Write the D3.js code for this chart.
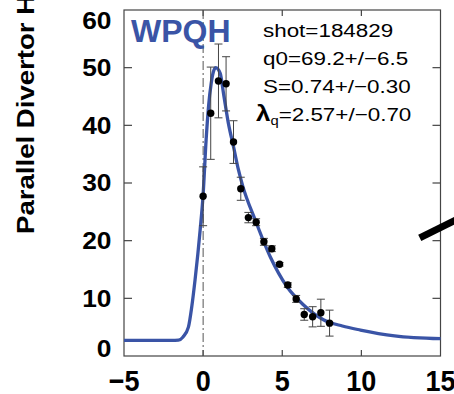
<!DOCTYPE html>
<html>
<head>
<meta charset="utf-8">
<script src="https://cdn.jsdelivr.net/npm/d3@7"></script>
<style>
  body { margin: 0; background: #fff; }
  text { font-family: "Liberation Sans", Arial, Helvetica, sans-serif; }
</style>
</head>
<body>
<div id="chart"></div>
<script>
// fitted profile (x in mm, q in MW/m2)
const fitX = [-5, -2, -1.56, -1.27, -0.93, -0.72, -0.51, -0.19, 0, 0.19, 0.34, 0.51, 0.65, 0.8, 1.08, 1.29, 1.6, 1.92, 2.23, 2.5, 3.29, 4.24, 5.3, 6.33, 7.6, 8.8, 9.94, 12.1, 15]
const fitY = [2.7, 2.7, 2.75, 3.3, 5.0, 8.5, 13.2, 21.8, 28, 37.5, 43.2, 47.3, 49.3, 50, 49, 45.5, 40.3, 36.3, 32.3, 29.5, 23.6, 17.2, 12, 8.9, 6.3, 5.2, 4.5, 3.5, 3.0]

// measured points with error bars
const ptX = [0, 0.48, 0.97, 1.45, 1.92, 2.38, 2.86, 3.35, 3.84, 4.34, 4.83, 5.35, 5.88, 6.39, 6.92, 7.44, 7.99]
const ptY = [27.7, 42.1, 47.7, 47.2, 37.1, 29.0, 24.0, 23.2, 19.8, 18.6, 15.9, 12.3, 9.9, 7.2, 6.8, 7.5, 5.7]
const ptErr = [5.1, 8.0, 6.4, 4.7, 3.7, 2.0, 0.9, 0.6, 0.6, 0.5, 0.3, 0.4, 0.6, 1.0, 1.75, 2.35, 2.25]

const xTicks = [-5, 0, 5, 10, 15]
const yTicks = [0, 10, 20, 30, 40, 50, 60]

const infoLines = ["shot=184829", "q0=69.2+/\u22126.5", "S=0.74+/\u22120.30"]
const lambdaText = "=2.57+/\u22120.70"
const pointer = [[13.69, 20.5], [17.0, 25.0]]   // cut-off arrow at right edge

const W = 454, H = 394
const blue = "#3a54a6"

const svg = d3.select("#chart").append("svg")
    .attr("width", W).attr("height", H)

const x = d3.scaleLinear().domain([-5, 15]).range([124, 440.5])
const y = d3.scaleLinear().domain([0, 60]).range([356, 10])

// y title, runs off the top
svg.append("text")
    .attr("transform", "translate(34.3,234) rotate(-90) scale(1.2,1)")
    .style("font-size", "23px").style("font-weight", "bold")
    .text("Parallel Divertor Heat Flux (MW/m\u00b2)")

// frame
svg.append("rect")
    .attr("x", x(-5)).attr("y", y(60))
    .attr("width", x(15) - x(-5)).attr("height", y(0) - y(60))
    .attr("fill", "none").attr("stroke", "#444").attr("stroke-width", 1.2)

// inward ticks on all four sides
const tk = svg.append("g").attr("stroke", "#444").attr("stroke-width", 1.2)
xTicks.slice(1, -1).forEach(v => {
    tk.append("line").attr("x1", x(v)).attr("x2", x(v)).attr("y1", y(0)).attr("y2", y(0) - 6)
    tk.append("line").attr("x1", x(v)).attr("x2", x(v)).attr("y1", y(60)).attr("y2", y(60) + 6)
})
yTicks.slice(1, -1).forEach(v => {
    tk.append("line").attr("x1", x(-5)).attr("x2", x(-5) + 8).attr("y1", y(v)).attr("y2", y(v))
    tk.append("line").attr("x1", x(15)).attr("x2", x(15) - 8).attr("y1", y(v)).attr("y2", y(v))
})

// tick labels
svg.selectAll(".ylab").data(yTicks).join("text")
    .attr("class", "ylab")
    .attr("transform", d => {
        let c = y(d)
        if (d == 60) c += 11
        if (d == 0) c -= 7.5
        return "translate(111.5," + (c + 8.4) + ") scale(1.12,1)"
    })
    .attr("text-anchor", "end")
    .style("font-size", "23.5px").style("font-weight", "bold")
    .text(d => d)

svg.selectAll(".xlab").data(xTicks).join("text")
    .attr("class", "xlab")
    .attr("transform", d => "translate(" + x(d) + ",391) scale(0.9,1)")
    .attr("text-anchor", "middle")
    .style("font-size", "30px").style("font-weight", "bold")
    .text(d => d < 0 ? "\u2212" + Math.abs(d) : d)

// dash-dot line at separatrix
svg.append("line")
    .attr("x1", x(0)).attr("x2", x(0)).attr("y1", y(60)).attr("y2", y(0))
    .attr("stroke", "#555").attr("stroke-width", 1)
    .attr("stroke-dasharray", "9,3,2,3")

// fit curve
const line = d3.line()
    .x(d => x(d[0]))
    .y(d => y(d[1]))
    .curve(d3.curveMonotoneX)
svg.append("path")
    .datum(fitX.map((v, i) => [v, fitY[i]]))
    .attr("d", line)
    .attr("fill", "none").attr("stroke", blue).attr("stroke-width", 3.3)

// error bars + dots
const pts = ptX.map((v, i) => ({ x: v, y: ptY[i], e: ptErr[i] }))
const eb = svg.append("g").attr("stroke", "#444").attr("stroke-width", 1)
pts.forEach(p => {
    eb.append("line").attr("x1", x(p.x)).attr("x2", x(p.x)).attr("y1", y(p.y - p.e)).attr("y2", y(p.y + p.e))
    eb.append("line").attr("x1", x(p.x) - 4).attr("x2", x(p.x) + 4).attr("y1", y(p.y - p.e)).attr("y2", y(p.y - p.e))
    eb.append("line").attr("x1", x(p.x) - 4).attr("x2", x(p.x) + 4).attr("y1", y(p.y + p.e)).attr("y2", y(p.y + p.e))
})
svg.selectAll("circle").data(pts).join("circle")
    .attr("cx", d => x(d.x)).attr("cy", d => y(d.y)).attr("r", 3.7)
    .attr("fill", "#000")

// label
svg.append("text")
    .attr("x", 131).attr("y", 41.7)
    .attr("fill", blue)
    .style("font-size", "32px").style("font-weight", "bold")
    .text("WPQH")

// fit parameters
infoLines.forEach((s, i) => {
    svg.append("text")
        .attr("transform", "translate(263," + (36.5 + i * 28.3) + ") scale(1.18,1)")
        .style("font-size", "19px")
        .text(s)
})
const lam = svg.append("text")
    .attr("transform", "translate(256," + (36.5 + 3 * 28.3) + ") scale(1.18,1)")
    .style("font-size", "19px")
lam.append("tspan").style("font-size", "22px").style("font-weight", "bold").text("\u03bb")
lam.append("tspan").style("font-size", "12.5px").attr("dy", 4).text("q")
lam.append("tspan").attr("dy", -4).text(lambdaText)

// thick black pointer
svg.append("line")
    .attr("x1", x(pointer[0][0])).attr("y1", y(pointer[0][1]))
    .attr("x2", x(pointer[1][0])).attr("y2", y(pointer[1][1]))
    .attr("stroke", "#000").attr("stroke-width", 7)
</script>
</body>
</html>
